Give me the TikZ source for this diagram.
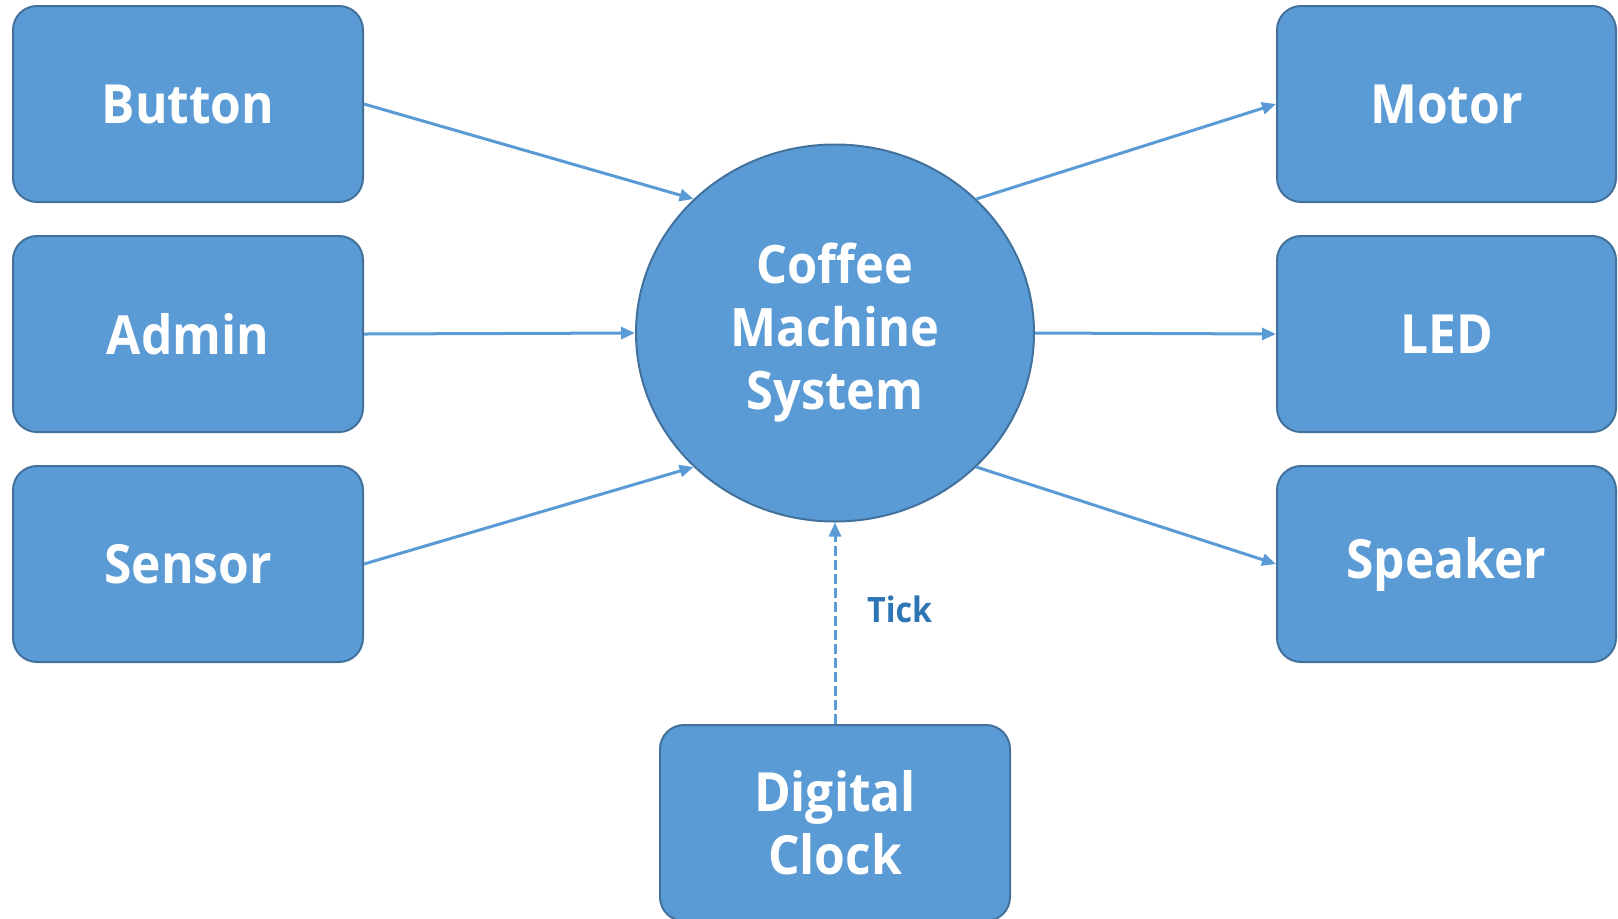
\documentclass[tikz,border=0pt]{standalone}
\usepackage{fontspec}
\setmainfont{Open Sans}[FakeStretch=0.92]
\usepackage{tikz}
\usetikzlibrary{arrows.meta}
\usetikzlibrary{shapes.geometric}
\usetikzlibrary{positioning}

\definecolor{boxfill}{HTML}{5B9BD5}
\definecolor{boxline}{HTML}{41719C}
\definecolor{ticktext}{HTML}{2E75B6}

\begin{document}
\begin{tikzpicture}[->,>={Triangle[length=7pt,width=6pt]},x=0.5pt,y=-0.5pt,
  node distance=115pt,line width=1.5pt,draw=boxfill,
  unit/.style={rectangle,rounded corners=12pt,fill=boxfill,draw=boxline,
    line width=1pt,text=white,font=\bfseries\fontsize{27}{31.5}\selectfont,
    minimum width=175pt,minimum height=98pt,align=center,inner sep=0pt},
  core/.style={ellipse,fill=boxfill,draw=boxline,line width=1pt,text=white,
    font=\bfseries\fontsize{26.5}{31.5}\selectfont,align=center,
    minimum width=199pt,minimum height=188.5pt,inner sep=0pt}]

  \useasboundingbox (0,0) rectangle (1618,918);

  \node[core] (sys) at (835,333) {Coffee\\Machine\\System};

  \node[unit] (admin) at (188,334) {Admin};
  \node[unit] (button) [above of=admin] {Button};
  \node[unit] (sensor) [below of=admin] {Sensor};

  \node[unit,minimum width=169.5pt] (led) at (1446.5,334) {LED};
  \node[unit,minimum width=169.5pt] (motor) [above of=led] {Motor};
  \node[unit,minimum width=169.5pt] (speaker) [below of=led] {Speaker};

  \node[unit] (clock) at (835,823) {Digital\\Clock};

  \path[every edge/.append style={draw=boxfill}]
    (button.east) edge (sys.north west)
    (admin.east) edge (sys.west)
    (sensor.east) edge (sys.south west)
    (sys.north east) edge (motor.west)
    (sys.east) edge (led.west)
    (sys.south east) edge (speaker.west);
  \path (clock.north) edge[draw=boxfill,dash pattern=on 5pt off 2pt]
    node[right=12pt,pos=0.57,text=ticktext,font=\bfseries\fontsize{17.5}{20}\selectfont] {Tick}
    (sys.south);
\end{tikzpicture}
\end{document}
